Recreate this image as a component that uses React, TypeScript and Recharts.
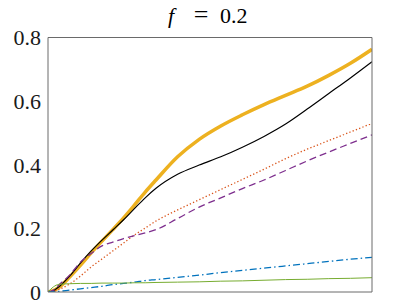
import React from 'react';
import { LineChart, Line, XAxis, YAxis } from 'recharts';

const xValues = [0, 0.05, 0.1, 0.2, 0.3, 0.4, 0.5, 0.6, 0.7, 0.8, 0.9, 1.0, 1.2, 1.4, 1.6, 1.8, 2.0, 2.2, 2.4, 2.6, 2.8, 3.0];
const yellowSeries = [0, 0.004, 0.014, 0.047, 0.084, 0.123, 0.160, 0.196, 0.233, 0.273, 0.314, 0.352, 0.425, 0.480, 0.522, 0.557, 0.589, 0.618, 0.647, 0.681, 0.719, 0.763];
const blackSeries = [0, 0.004, 0.016, 0.05, 0.091, 0.129, 0.163, 0.195, 0.227, 0.262, 0.296, 0.326, 0.370, 0.399, 0.425, 0.455, 0.489, 0.528, 0.575, 0.624, 0.673, 0.724];
const orangeSeries = [0, 0.003, 0.008, 0.025, 0.05, 0.079, 0.104, 0.129, 0.154, 0.179, 0.201, 0.223, 0.258, 0.29, 0.322, 0.354, 0.386, 0.419, 0.449, 0.476, 0.503, 0.53];
const purpleSeries = [0, 0.006, 0.022, 0.053, 0.094, 0.121, 0.145, 0.157, 0.168, 0.177, 0.186, 0.196, 0.231, 0.267, 0.296, 0.325, 0.352, 0.382, 0.412, 0.44, 0.467, 0.494];
const blueSeries = [0, 0.001, 0.002, 0.006, 0.01, 0.014, 0.018, 0.023, 0.027, 0.031, 0.036, 0.039, 0.046, 0.053, 0.061, 0.068, 0.075, 0.082, 0.089, 0.096, 0.103, 0.109];
const greenSeries = [0, 0.016, 0.024, 0.026, 0.027, 0.027, 0.028, 0.028, 0.028, 0.029, 0.029, 0.030, 0.031, 0.032, 0.034, 0.035, 0.037, 0.039, 0.040, 0.042, 0.043, 0.045];

const yTicks = [0, 0.2, 0.4, 0.6, 0.8];
const xTicks = [1, 2];
const titleVar = 'f';
const titleEq = '=';
const titleValue = '0.2';

const data = xValues.map((x, i) => ({
  x,
  yellow: yellowSeries[i],
  black: blackSeries[i],
  orange: orangeSeries[i],
  purple: purpleSeries[i],
  blue: blueSeries[i],
  green: greenSeries[i],
}));

const AX = '#6a6a6a';
const FONT = "'Liberation Serif', 'Times New Roman', Times, serif";
const FS = 22;

export default function App() {
  return (
    <div style={{ position: 'absolute', left: 0, top: 0, width: 407, height: 305, background: '#fff', fontFamily: FONT }}>
      <LineChart width={407} height={305} data={data} margin={{ top: 37.5, right: 35, bottom: 13, left: 0 }}>
        <XAxis xAxisId="b" dataKey="x" type="number" domain={[0, 3]} ticks={xTicks} allowDataOverflow mirror height={1} tick={false} tickSize={4} stroke={AX} />
        <XAxis xAxisId="t" orientation="top" dataKey="x" type="number" domain={[0, 3]} ticks={xTicks} allowDataOverflow mirror height={1} tick={false} tickSize={4} stroke={AX} />
        <YAxis yAxisId="l" type="number" domain={[0, 0.8]} ticks={yTicks} allowDataOverflow width={48} tickLine={false} tickSize={0} tickMargin={7}
          tick={{ fill: '#1a1a1a', fontSize: FS, fontFamily: FONT }} stroke={AX} tickFormatter={(v: number) => String(v)} />
        <YAxis yAxisId="l2" type="number" domain={[0, 0.8]} ticks={yTicks} allowDataOverflow mirror width={1} tick={false} axisLine={false} tickSize={4} stroke={AX} />
        <YAxis yAxisId="r" orientation="right" type="number" domain={[0, 0.8]} ticks={yTicks} allowDataOverflow mirror width={1} tick={false} tickSize={4} stroke={AX} />
        <Line xAxisId="b" yAxisId="l" type="monotone" dataKey="yellow" stroke="#EDB120" strokeWidth={3.5} dot={false} isAnimationActive={false} />
        <Line xAxisId="b" yAxisId="l" type="monotone" dataKey="black" stroke="#000000" strokeWidth={1.2} dot={false} isAnimationActive={false} />
        <Line xAxisId="b" yAxisId="l" type="monotone" dataKey="orange" stroke="#D95319" strokeWidth={1.3} strokeDasharray="1.3 2.2" dot={false} isAnimationActive={false} />
        <Line xAxisId="b" yAxisId="l" type="monotone" dataKey="purple" stroke="#7E2F8E" strokeWidth={1.3} strokeDasharray="7 4" dot={false} isAnimationActive={false} />
        <Line xAxisId="b" yAxisId="l" type="monotone" dataKey="blue" stroke="#0072BD" strokeWidth={1.3} strokeDasharray="7 3 1.5 3" dot={false} isAnimationActive={false} />
        <Line xAxisId="b" yAxisId="l" type="monotone" dataKey="green" stroke="#77AC30" strokeWidth={1} dot={false} isAnimationActive={false} />
      </LineChart>
      <svg width={407} height={40} style={{ position: 'absolute', left: 0, top: 0, pointerEvents: 'none', fontFamily: FONT }}>
        <text x={168} y={23} textAnchor="start" fontSize={FS} fontStyle="italic" fill="#000">{titleVar}</text>
        <text x={201} y={23} textAnchor="middle" fontSize={FS + 4} fill="#000">{titleEq}</text>
        <text x={220} y={23} textAnchor="start" fontSize={FS} fill="#000">{titleValue}</text>
      </svg>
    </div>
  );
}
